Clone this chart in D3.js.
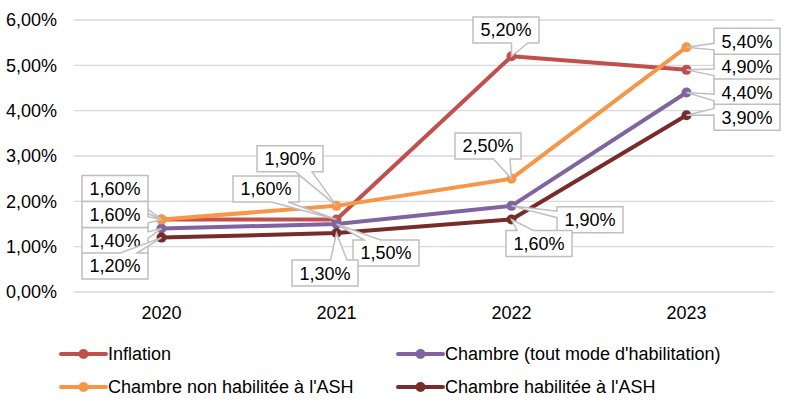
<!DOCTYPE html>
<html lang="fr">
<head>
    <meta charset="UTF-8"/>
    <title>Évolution des tarifs</title>
    <script src="https://cdnjs.cloudflare.com/ajax/libs/d3/7.8.5/d3.min.js"></script>
    <style>
        body { margin: 0; background: #fff; }
        text { font-family: "Liberation Sans", Arial, sans-serif; fill: #000; }
    </style>
</head>
<body>
<div id="chart"></div>

<script>
    // Data
    const years = ["2020", "2021", "2022", "2023"];
    const seriesNames = [
        "Inflation",
        "Chambre (tout mode d'habilitation)",
        "Chambre non habilitée à l'ASH",
        "Chambre habilitée à l'ASH"
    ];
    const inflation = [1.6, 1.6, 5.2, 4.9];
    const chambreTout = [1.4, 1.5, 1.9, 4.4];
    const chambreNonHab = [1.6, 1.9, 2.5, 5.4];
    const chambreHab = [1.2, 1.3, 1.6, 3.9];
    const yTicks = [0, 1, 2, 3, 4, 5, 6];

    const seriesValues = [inflation, chambreTout, chambreNonHab, chambreHab];
    const colors = ["#C0504D", "#8064A2", "#F79646", "#772C2A"];

    // Label box offsets from their point (layout only)
    const labelOffsets = [
        [[-46.5, -31], [-70.5, -30.5], [-5.5, -26.3], [60.5, -3]],
        [[-46.5, 12], [49.5, 29], [78.5, 14], [60.5, -0.5]],
        [[-46.5, -5], [-46.5, -47], [-23.5, -32.7], [60.5, -6]],
        [[-46.5, 28.4], [-11.5, 40], [27.5, 24], [60.5, 2]]
    ];

    const width = 787;
    const height = 406;
    const plot = {left: 74, right: 774, top: 20, bottom: 292};

    const svg = d3.select("#chart")
        .append("svg")
        .attr("width", width)
        .attr("height", height);

    const x = d3.scalePoint()
        .domain(years)
        .range([plot.left, plot.right])
        .padding(0.5);

    const y = d3.scaleLinear()
        .domain([0, 6])
        .range([plot.bottom, plot.top]);

    const fmt = v => v.toFixed(2).replace(".", ",") + "%";

    // Gridlines
    svg.append("g")
        .selectAll("line")
        .data(yTicks)
        .enter()
        .append("line")
        .attr("x1", plot.left)
        .attr("x2", plot.right)
        .attr("y1", d => y(d))
        .attr("y2", d => y(d))
        .attr("stroke", "#d9d9d9")
        .attr("stroke-width", 1.3);

    // Y axis labels
    svg.append("g")
        .selectAll("text")
        .data(yTicks)
        .enter()
        .append("text")
        .attr("x", 57)
        .attr("y", d => y(d))
        .attr("dy", "0.35em")
        .attr("text-anchor", "end")
        .attr("font-size", 18)
        .text(d => fmt(d));

    // X axis labels
    svg.append("g")
        .selectAll("text")
        .data(years)
        .enter()
        .append("text")
        .attr("x", d => x(d))
        .attr("y", 319)
        .attr("text-anchor", "middle")
        .attr("font-size", 18)
        .text(d => d);

    // Lines and markers
    const line = d3.line()
        .x((d, i) => x(years[i]))
        .y(d => y(d));

    seriesValues.forEach((vals, s) => {
        svg.append("path")
            .attr("d", line(vals))
            .attr("fill", "none")
            .attr("stroke", colors[s])
            .attr("stroke-width", 4)
            .attr("stroke-linejoin", "round");

        svg.append("g")
            .selectAll("circle")
            .data(vals)
            .enter()
            .append("circle")
            .attr("cx", (d, i) => x(years[i]))
            .attr("cy", d => y(d))
            .attr("r", 5)
            .attr("fill", colors[s]);
    });

    // Rectangular callout with a wedge pointing at (px, py)
    function calloutPath(cx, cy, w, h, px, py) {
        const l = cx - w / 2, t = cy - h / 2, r = cx + w / 2, b = cy + h / 2;
        const dx = px - cx, dy = py - cy;
        const vertical = Math.abs(dy) - Math.abs(dx * h / w) > 0;
        const inside = px >= l && px <= r && py >= t && py <= b;
        const x1 = l + w * (dx > 0 ? 7 : 2) / 12;
        const x2 = l + w * (dx > 0 ? 10 : 5) / 12;
        const y1 = t + h * (dy > 0 ? 7 : 2) / 12;
        const y2 = t + h * (dy > 0 ? 10 : 5) / 12;
        let p = `M${l},${t}`;
        if (!inside && vertical && dy < 0) p += `L${x1},${t}L${px},${py}L${x2},${t}`;
        p += `L${r},${t}`;
        if (!inside && !vertical && dx > 0) p += `L${r},${y1}L${px},${py}L${r},${y2}`;
        p += `L${r},${b}`;
        if (!inside && vertical && dy > 0) p += `L${x2},${b}L${px},${py}L${x1},${b}`;
        p += `L${l},${b}`;
        if (!inside && !vertical && dx < 0) p += `L${l},${y2}L${px},${py}L${l},${y1}`;
        return p + "Z";
    }

    // Data labels
    const boxW = 66, boxH = 26;
    seriesValues.forEach((vals, s) => {
        vals.forEach((v, i) => {
            const px = x(years[i]), py = y(v);
            const cx = px + labelOffsets[s][i][0];
            const cy = py + labelOffsets[s][i][1];
            const g = svg.append("g");
            g.append("path")
                .attr("d", calloutPath(cx, cy, boxW, boxH, px, py))
                .attr("fill", "#fff")
                .attr("stroke", "#bfbfbf")
                .attr("stroke-width", 1.5);
            g.append("text")
                .attr("x", cx)
                .attr("y", cy)
                .attr("dy", "0.36em")
                .attr("text-anchor", "middle")
                .attr("font-size", 18)
                .text(fmt(v));
        });
    });

    // Legend
    const legendPos = [[61, 354], [398, 354], [61, 387], [398, 387]];
    seriesNames.forEach((name, s) => {
        const [lx, ly] = legendPos[s];
        const g = svg.append("g").attr("transform", `translate(${lx},${ly})`);
        g.append("line")
            .attr("x1", 0)
            .attr("x2", 45)
            .attr("stroke", colors[s])
            .attr("stroke-width", 4)
            .attr("stroke-linecap", "round");
        g.append("circle")
            .attr("cx", 22.5)
            .attr("r", 5)
            .attr("fill", colors[s]);
        g.append("text")
            .attr("x", 47)
            .attr("dy", "0.35em")
            .attr("font-size", 18)
            .text(name);
    });
</script>
</body>
</html>
